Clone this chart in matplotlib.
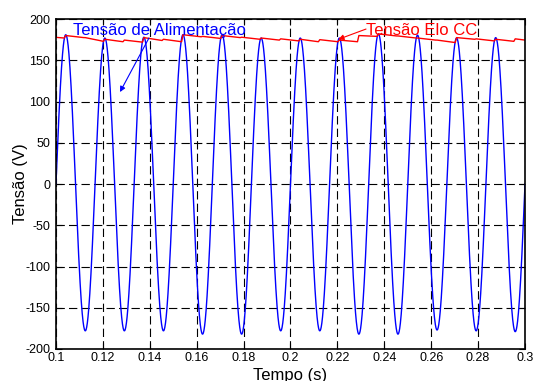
import numpy as np
import matplotlib
matplotlib.use("Agg")
import matplotlib.pyplot as plt

plt.rcParams['font.family'] = ['Liberation Sans', 'DejaVu Sans']
plt.rcParams['lines.scale_dashes'] = False
plt.rcParams['axes.unicode_minus'] = False

# supply voltage: 60 Hz, amplitude of each half cycle (V)
freq = 60.0
peaks = [181, 177, 178, 181, 181, 177, 177, 177, 182, 180.5, 177, 177.5]
troughs = [-178, -178, -178, -182, -182, -178, -178, -182, -182, -177, -178, -179]

# DC link voltage: value just before / just after each recharge (one per half cycle)
dc_start, dc_end = 177.8, 174.5
dc_lo = [177, 177.5, 173, 172.5, 172, 174, 172.5, 178.5, 176.5, 177.5, 175.5, 174.5,
         173.5, 172.5, 172.5, 172.5, 179, 179.5, 177, 174.5, 171.5, 175.5, 173.5, 173]
dc_hi = [180, 177.5, 175.5, 174.5, 177.5, 175.5, 181, 179, 180, 178, 177, 176,
         175.5, 175, 174.5, 180, 182, 179.5, 177, 174.5, 177.5, 176, 175.5, 176]

xticks = [0.1, 0.12, 0.14, 0.16, 0.18, 0.2, 0.22, 0.24, 0.26, 0.28, 0.3]
xticklabels = ['0.1', '0.12', '0.14', '0.16', '0.18', '0.2', '0.22', '0.24', '0.26', '0.28', '0.3']
yticks = [-200, -150, -100, -50, 0, 50, 100, 150, 200]

# build the AC waveform half cycle by half cycle
t0 = 0.1
half = 1.0 / (2 * freq)
amps = [a for pair in zip(peaks, troughs) for a in pair]
t_ac, v_ac = [], []
for k, a in enumerate(amps):
    tt = np.linspace(t0 + k * half, t0 + (k + 1) * half, 120)
    t_ac.append(tt)
    v_ac.append(abs(a) * np.sin(2 * np.pi * freq * tt))
t_ac = np.concatenate(t_ac)
v_ac = np.concatenate(v_ac)

# DC link: linear decay, fast recharge at each peak of |v_ac|
t_dc, v_dc = [t0], [dc_start]
for k, (lo, hi) in enumerate(zip(dc_lo, dc_hi)):
    te = t0 + half / 2 + k * half
    t_dc += [te - 0.0006, te]
    v_dc += [lo, hi]
t_dc.append(0.3)
v_dc.append(dc_end)

fig = plt.figure(figsize=(5.33, 3.81), dpi=100)
ax = fig.add_axes([0.105, 0.084, 0.880, 0.866])

ax.plot(t_ac, v_ac, color=(0, 0, 1), lw=1.0)
ax.plot(t_dc, v_dc, color=(1, 0, 0), lw=1.0)

ax.set_xlim(0.1, 0.3)
ax.set_ylim(-200, 200)
ax.set_xticks(xticks)
ax.set_xticklabels(xticklabels)
ax.set_yticks(yticks)
ax.tick_params(direction='in', length=4, width=0.8, labelsize=9,
               top=True, right=True)
ax.tick_params(axis='y', pad=4)
ax.tick_params(axis='x', pad=2)
ax.grid(True, color='k', lw=0.8, linestyle=(0, (6, 3)))
for s in ax.spines.values():
    s.set_linewidth(1.2)

ax.set_xlabel('Tempo (s)', fontsize=12, labelpad=3)
ax.set_ylabel('Tensão (V)', fontsize=12, labelpad=-2)

ax.annotate('Tensão de Alimentação', xy=(0.1273, 111.5), xytext=(0.1072, 180.6),
            fontsize=12, color=(0, 0, 1), va='baseline',
            arrowprops=dict(arrowstyle='-|>', color=(0, 0, 1), lw=0.8,
                            mutation_scale=8, shrinkA=0, shrinkB=0,
                            patchA=None, relpos=(0.44, 0.0)))
ax.annotate('Tensão Elo CC', xy=(0.2204, 175.4), xytext=(0.2322, 180.6),
            fontsize=12, color=(1, 0, 0), va='baseline',
            arrowprops=dict(arrowstyle='-|>', color=(1, 0, 0), lw=0.8,
                            mutation_scale=8, shrinkA=0, shrinkB=0,
                            patchA=None, relpos=(0.0, 0.6)))

fig.savefig('out.png', dpi=100)
